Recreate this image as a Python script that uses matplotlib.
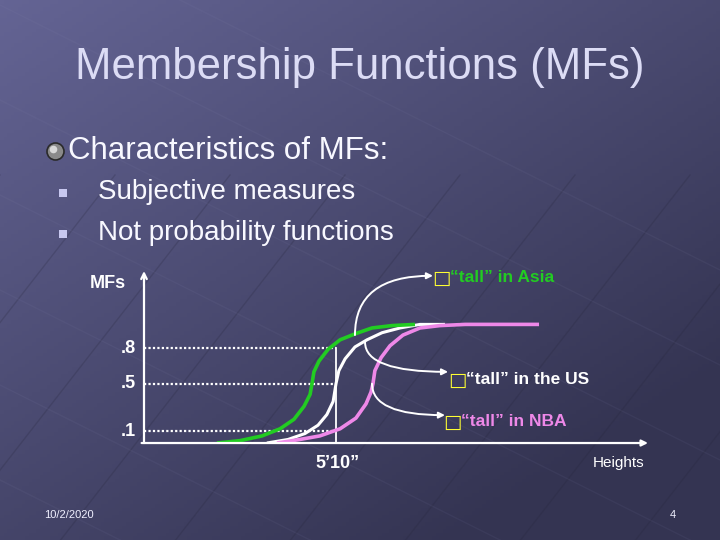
import numpy as np
import matplotlib
matplotlib.use("Agg")
import matplotlib.pyplot as plt

plt.rcParams['font.family'] = ['Liberation Sans', 'DejaVu Sans']

# membership curves, x = height in inches, y = membership degree
asia_x = [65.04, 66.00, 66.92, 67.67, 68.25, 68.67, 68.92, 69.00, 69.08, 69.29,
          69.67, 70.17, 70.79, 71.50, 72.33, 73.29]
asia_y = [0.00, 0.02, 0.06, 0.12, 0.20, 0.31, 0.41, 0.50, 0.60, 0.69,
          0.79, 0.87, 0.92, 0.97, 0.99, 1.00]

us_x = [67.12, 68.00, 68.71, 69.25, 69.62, 69.88, 70.00, 70.12, 70.38, 70.79,
        71.29, 71.92, 72.67, 73.50, 74.54]
us_y = [0.00, 0.03, 0.08, 0.15, 0.24, 0.35, 0.50, 0.61, 0.71, 0.81,
        0.87, 0.93, 0.97, 1.00, 1.00]

nba_x = [67.54, 68.50, 69.33, 70.17, 70.83, 71.25, 71.46, 71.54, 71.62, 71.88,
         72.25, 72.79, 73.50, 74.33, 75.38, 78.46]
nba_y = [0.00, 0.03, 0.06, 0.12, 0.21, 0.33, 0.43, 0.50, 0.61, 0.72,
         0.82, 0.91, 0.97, 0.99, 1.00, 1.00]

ref_height = 70          # 5'10"
levels = [0.8, 0.5, 0.1]
level_labels = ['.8', '.5', '.1']

# arrows: (start on curve, end at label)
arrow_asia = ((70.79, 0.91), (74.04, 1.41))
arrow_us = ((71.21, 0.85), (74.67, 0.60))
arrow_nba = ((71.50, 0.50), (74.54, 0.235))

GREEN = '#22cc22'
PINK = '#ee88e8'
WHITE = '#ffffff'
YELLOW = '#ffff33'

fig = plt.figure(figsize=(7.2, 5.4), dpi=100)

# slide background
bg = fig.add_axes([0, 0, 1, 1])
bg.set_xlim(0, 720)
bg.set_ylim(540, 0)
bg.axis('off')
gx, gy = np.meshgrid(np.linspace(0, 1, 200), np.linspace(0, 1, 150))
t = np.clip(0.55 * gx + 0.65 * gy, 0, 1)
c0 = np.array([100, 100, 148]) / 255
c1 = np.array([52, 52, 82]) / 255
img = c0[None, None, :] * (1 - t[..., None]) + c1[None, None, :] * t[..., None]
bg.imshow(img, extent=[0, 720, 540, 0], aspect='auto', zorder=0)

# faint floor grid, lower part of the slide
for x0 in range(-300, 900, 115):
    bg.plot([x0, x0 + 300], [560, 175], color='#25253a', lw=1.0, alpha=0.22, zorder=1)
for y0 in range(-100, 600, 95):
    bg.plot([-20, 740], [y0, y0 + 380], color='#9090b8', lw=1.0, alpha=0.08, zorder=1)

# title and bullets
bg.text(360, 68, 'Membership Functions (MFs)', ha='center', va='center',
        fontsize=31.5, color='#dcdcf5', zorder=3)
bg.scatter([55], [151], s=150, color='#8a8a8a', edgecolor='#2a2a2a', lw=1.2, zorder=3)
bg.scatter([53], [149], s=30, color='#d8d8d8', lw=0, zorder=4)
bg.text(68, 151, 'Characteristics of MFs:', ha='left', va='center',
        fontsize=22.5, color='#f8f8ff', zorder=3)
for yy, s in [(192, 'Subjective measures'), (233, 'Not probability functions')]:
    bg.scatter([63], [yy + 1], s=36, marker='s', color='#c8c8f0', lw=0, zorder=3)
    bg.text(98, yy, s, ha='left', va='center', fontsize=20, color='#f8f8ff', zorder=3)

bg.text(44, 515, '10/2/2020', ha='left', va='center', fontsize=8, color='#f0f0ff', zorder=3)
bg.text(673, 515, '4', ha='center', va='center', fontsize=8, color='#f0f0ff', zorder=3)

# chart labels
bg.text(108, 283, 'MFs', ha='center', va='center', fontsize=13,
        fontweight='bold', color=WHITE, zorder=3)
bg.text(337, 463, '5\u201910\u201d', ha='center', va='center', fontsize=13,
        fontweight='bold', color=WHITE, zorder=3)
bg.text(619, 463, 'Heights', ha='center', va='center', fontsize=11,
        color=WHITE, zorder=3)

labels = [(441, 277, '\u201ctall\u201d in Asia', GREEN),
          (457, 379, '\u201ctall\u201d in the US', WHITE),
          (452, 421, '\u201ctall\u201d in NBA', PINK)]
for bx, by, s, col in labels:
    bg.text(bx, by + 1, '\u25a1', ha='center', va='center', fontsize=14,
            family='DejaVu Sans', color=YELLOW, zorder=3)
    bg.text(bx + 9, by, s, ha='left', va='center', fontsize=12.5,
            fontweight='bold', color=col, zorder=3)

# chart
ax = fig.add_axes([0.2, 0.1796, 0.7, 0.3185])
ax.set_xlim(62, 83)
ax.set_ylim(0, 1.45)
ax.axis('off')
ax.patch.set_alpha(0)

ax.annotate('', xy=(62, 1.45), xytext=(62, 0),
            arrowprops=dict(arrowstyle='->', color=WHITE, lw=1.6, mutation_scale=10,
                            shrinkA=0, shrinkB=0))
ax.annotate('', xy=(83, 0), xytext=(61.9, 0),
            arrowprops=dict(arrowstyle='-|>', color=WHITE, lw=1.6, mutation_scale=9,
                            shrinkA=0, shrinkB=0))

for lv, lab in zip(levels, level_labels):
    ax.plot([62, ref_height], [lv, lv], color=WHITE, lw=1.6,
            linestyle=(0, (1, 1)))
    ax.text(61.67, lv, lab, ha='right', va='center', fontsize=13,
            fontweight='bold', color=WHITE, clip_on=False)
ax.plot([ref_height, ref_height], [0, 0.8], color=WHITE, lw=1.3)

ax.plot(us_x, us_y, color=WHITE, lw=2.2, solid_capstyle='butt')
ax.plot(asia_x, asia_y, color=GREEN, lw=2.6, solid_capstyle='butt')
ax.plot(nba_x, nba_y, color=PINK, lw=2.6, solid_capstyle='butt')

for (p0, p1), a in zip([arrow_asia, arrow_us, arrow_nba], [90, -90, -90]):
    ax.annotate('', xy=p1, xytext=p0,
                arrowprops=dict(arrowstyle='-|>', color=WHITE, lw=1.4,
                                mutation_scale=9, shrinkA=0, shrinkB=0,
                                connectionstyle='angle3,angleA=%d,angleB=0' % a))

fig.savefig('out.png', dpi=100)
